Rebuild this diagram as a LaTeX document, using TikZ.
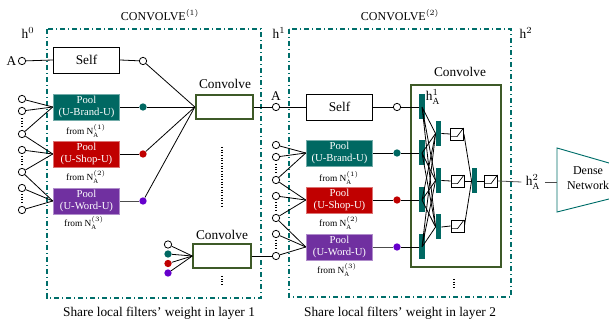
\documentclass[tikz,border=0pt]{standalone}
\usepackage{amsmath, amssymb}
\usepackage{fontspec}
\setmainfont{Liberation Serif}
\usepackage{tikz}

\definecolor{poolteal}{RGB}{0,104,98}
\definecolor{poolred}{RGB}{192,0,0}
\definecolor{poolpurple}{RGB}{112,48,160}
\definecolor{dotpurple}{RGB}{102,0,204}
\definecolor{convgreen}{RGB}{62,90,40}
\definecolor{frameteal}{RGB}{0,110,106}

\begin{document}
\begin{tikzpicture}[x=0.75pt, y=-0.75pt,
    dot/.style={draw, fill=white, circle, inner sep=0pt, minimum size=5.5pt, line width=0.6pt},
    fdot/.style={circle, inner sep=0pt, minimum size=5.5pt, fill=#1},
    box/.style={draw, line width=0.6pt, minimum width=50pt, minimum height=19.5pt, inner sep=0pt},
    pool/.style={fill=#1, draw=#1!55!white, line width=0.6pt, text=white, font=\footnotesize, align=center,
        minimum width=50pt, minimum height=19.5pt, inner sep=0pt},
    conv/.style={draw=convgreen, line width=1.5pt, minimum width=43pt, minimum height=18.5pt, inner sep=0pt},
    bar/.style={fill=poolteal, minimum width=4pt, minimum height=18.75pt, inner sep=0pt},
    act/.style={draw, line width=0.6pt, minimum width=9.75pt, minimum height=9pt, inner sep=0pt,
        path picture={\draw[line width=0.5pt] ([yshift=2.5pt]path picture bounding box.south west)
            -- ([yshift=2.5pt]path picture bounding box.south) -- (path picture bounding box.north east);}},
    frame/.style={draw=frameteal, line width=0.9pt, dash pattern=on 4pt off 2pt on 1pt off 2pt},
    wire/.style={line width=0.6pt},
    vdots/.style={line width=0.8pt, dash pattern=on 0.6pt off 1.4pt}]
    \useasboundingbox (0,0) rectangle (609,323);

    % layer 1
    \draw[frame] (47,29) rectangle (261,298);
    \node (t1) at (160,15) {\small CONVOLVE$^{(1)}$};
    \node (h0) at (28,33) {$\mathrm{h}^{0}$};

    \node[dot] (a0) at (22,61) {};
    \node[left, inner sep=1pt] (la0) at (a0.west) {A};
    \node[box] (self1) at (86.5,60) {Self};
    \node[dot] (s1) at (143,61) {};

    \node[pool=poolteal] (p11) at (86.5,107) {Pool\\(U-Brand-U)};
    \node[pool=poolred] (p12) at (86.5,154) {Pool\\(U-Shop-U)};
    \node[pool=poolpurple] (p13) at (86.5,201) {Pool\\(U-Word-U)};
    \node[font=\scriptsize] (n11) at (86,131) {from $\mathrm{N}_{\mathrm{A}}^{(1)}$};
    \node[font=\scriptsize] (n12) at (86,177) {from $\mathrm{N}_{\mathrm{A}}^{(2)}$};
    \node[font=\scriptsize] (n13) at (84,223) {from $\mathrm{N}_{\mathrm{A}}^{(3)}$};

    \node[fdot=poolteal] (c11) at (143,107) {};
    \node[fdot=poolred] (c12) at (143,154) {};
    \node[fdot=dotpurple] (c13) at (143,201) {};

    \node[dot] (i1) at (22,99) {};
    \node[dot] (i2) at (22,111) {};
    \node[dot] (i3) at (22,134) {};
    \node[dot] (i4) at (22,150) {};
    \node[dot] (i5) at (22,172) {};
    \node[dot] (i6) at (22,188) {};
    \node[dot] (i7) at (22,210) {};
    \draw[vdots] (22,118) -- (22,128);
    \draw[vdots] (22,156) -- (22,166);
    \draw[vdots] (22,194) -- (22,204);

    \node[conv] (cv1) at (224.5,107) {};
    \node (lc1) at (225,84) {Convolve};
    \draw[vdots] (222,147) -- (222,207);

    \node[conv] (cv2) at (222,256) {};
    \node (lc2) at (222,235) {Convolve};
    \node[dot] (k1) at (168,244.5) {};
    \node[fdot=poolteal] (k2) at (168,254) {};
    \node[fdot=poolred] (k3) at (168,263.5) {};
    \node[fdot=dotpurple] (k4) at (168,273) {};
    \draw[vdots] (222,276) -- (222,285);

    \draw[wire] (a0) -- (self1.west);
    \draw[wire] (self1.east) -- (s1);
    \draw[wire] (p11.east) -- (c11);
    \draw[wire] (p12.east) -- (c12);
    \draw[wire, black!70] (p13.east) -- (c13);
    \draw[wire] (s1) -- (cv1.west);
    \draw[wire] (c11) -- (cv1.west);
    \draw[wire] (c12) -- (cv1.west);
    \draw[wire] (c13) -- (cv1.west);
    \draw[wire] (i1) -- (p11.west);
    \draw[wire] (i2) -- (p11.west);
    \draw[wire] (i3) -- (p11.west);
    \draw[wire] (i3) -- (p12.west);
    \draw[wire] (i4) -- (p12.west);
    \draw[wire] (i5) -- (p12.west);
    \draw[wire] (i5) -- (p13.west);
    \draw[wire] (i6) -- (p13.west);
    \draw[wire] (i7) -- (p13.west);
    \draw[wire] (k1) -- (cv2.west);
    \draw[wire] (k2) -- (cv2.west);
    \draw[wire] (k3) -- (cv2.west);
    \draw[wire] (k4) -- (cv2.west);

    \node (cap1) at (159,313) {Share local filters’ weight in layer 1};

    % layer 2
    \draw[frame] (289,29) rectangle (511,297);
    \node (t2) at (400,15) {\small CONVOLVE$^{(2)}$};
    \node (h1) at (279,33) {$\mathrm{h}^{1}$};
    \node (h2) at (526,33) {$\mathrm{h}^{2}$};

    \node[dot] (o1) at (276,107) {};
    \node[above, inner sep=1.5pt] (lo1) at (o1.north) {A};
    \node[box] (self2) at (339.5,107) {Self};
    \node[dot] (s2) at (397,107) {};

    \node[pool=poolteal] (p21) at (339.5,153) {Pool\\(U-Brand-U)};
    \node[pool=poolred] (p22) at (339.5,200) {Pool\\(U-Shop-U)};
    \node[pool=poolpurple] (p23) at (339.5,247) {Pool\\(U-Word-U)};
    \node[font=\scriptsize] (n21) at (339,178) {from $\mathrm{N}_{\mathrm{A}}^{(1)}$};
    \node[font=\scriptsize] (n22) at (339,223) {from $\mathrm{N}_{\mathrm{A}}^{(2)}$};
    \node[font=\scriptsize] (n23) at (337,270) {from $\mathrm{N}_{\mathrm{A}}^{(3)}$};

    \node[fdot=poolteal] (c21) at (397,153) {};
    \node[fdot=poolred] (c22) at (397,200) {};
    \node[fdot=dotpurple] (c23) at (397,247) {};

    \node[dot] (j1) at (276,145) {};
    \node[dot] (j2) at (276,157) {};
    \node[dot] (j3) at (276,180) {};
    \node[dot] (j4) at (276,196) {};
    \node[dot] (j5) at (276,218) {};
    \node[dot] (j6) at (276,234) {};
    \node[dot] (j7) at (276,256) {};
    \draw[vdots] (276,164) -- (276,174);
    \draw[vdots] (276,202) -- (276,212);
    \draw[vdots] (276,240) -- (276,250);

    \node[conv, minimum width=67.5pt, minimum height=137pt] (cv3) at (456,176) {};
    \node (lc3) at (460,72) {Convolve};
    \draw[vdots] (454,279) -- (454,288);

    \node[bar] (b1) at (422,107) {};
    \node[bar] (b2) at (422,153) {};
    \node[bar] (b3) at (422,200) {};
    \node[bar] (b4) at (422,247) {};
    \node (ha1) at (433,97) {$\mathrm{h}_{\mathrm{A}}^{1}$};
    \node[bar] (d1) at (438.5,133.5) {};
    \node[bar] (d2) at (438.5,180.5) {};
    \node[bar] (d3) at (438.5,227) {};
    \node[act] (e1) at (457,134) {};
    \node[act] (e2) at (457.5,181) {};
    \node[act] (e3) at (457.5,226) {};
    \node[bar] (f1) at (474.5,181) {};
    \node[act] (g1) at (491,181) {};

    \node (ha2) at (533,182) {$\mathrm{h}_{\mathrm{A}}^{2}$};
    \coordinate (dn0) at (557,182);
    \draw[frameteal, line width=0.7pt] (609,163) -- (557,148) -- (557,212) -- (609,199);
    \node[font=\small, align=center] (dn) at (588,178) {Dense\\Network};

    \draw[wire] (cv1.east) -- (o1);
    \draw[wire] (cv2.east) -- (j7);
    \draw[wire] (o1) -- (self2.west);
    \draw[wire] (self2.east) -- (s2);
    \draw[wire] (p21.east) -- (c21);
    \draw[wire] (p22.east) -- (c22);
    \draw[wire, black!70] (p23.east) -- (c23);
    \draw[wire] (j1) -- (p21.west);
    \draw[wire] (j2) -- (p21.west);
    \draw[wire] (j3) -- (p21.west);
    \draw[wire] (j3) -- (p22.west);
    \draw[wire] (j4) -- (p22.west);
    \draw[wire] (j5) -- (p22.west);
    \draw[wire] (j5) -- (p23.west);
    \draw[wire] (j6) -- (p23.west);
    \draw[wire] (j7) -- (p23.west);

    \draw[wire] (s2) -- (b1.west);
    \draw[wire] (c21) -- (b2.west);
    \draw[wire] (c22) -- (b3.west);
    \draw[wire] (c23) -- (b4.west);
    \draw[wire] (b1.center) -- (d1.west) (b1.center) -- (d2.west) (b1.center) -- (d3.west);
    \draw[wire] (b2.center) -- (d1.west) (b2.center) -- (d2.west) (b2.center) -- (d3.west);
    \draw[wire] (b3.center) -- (d1.west) (b3.center) -- (d2.west) (b3.center) -- (d3.west);
    \draw[wire] (b4.center) -- (d1.west) (b4.center) -- (d2.west) (b4.center) -- (d3.west);
    \draw[wire] (d1.east) -- (e1.west);
    \draw[wire] (d2.east) -- (e2.west);
    \draw[wire] (d3.east) -- (e3.west);
    \draw[wire] (e1.east) -- (f1.west);
    \draw[wire] (e2.east) -- (f1.west);
    \draw[wire] (e3.east) -- (f1.west);
    \draw[wire] (f1.east) -- (g1.west);
    \draw[wire, black!70] (g1.east) -- (ha2.west);
    \draw[wire, black!70] (ha2.east) -- (dn0);

    \node (cap2) at (400,313) {Share local filters’ weight in layer 2};
\end{tikzpicture}
\end{document}
